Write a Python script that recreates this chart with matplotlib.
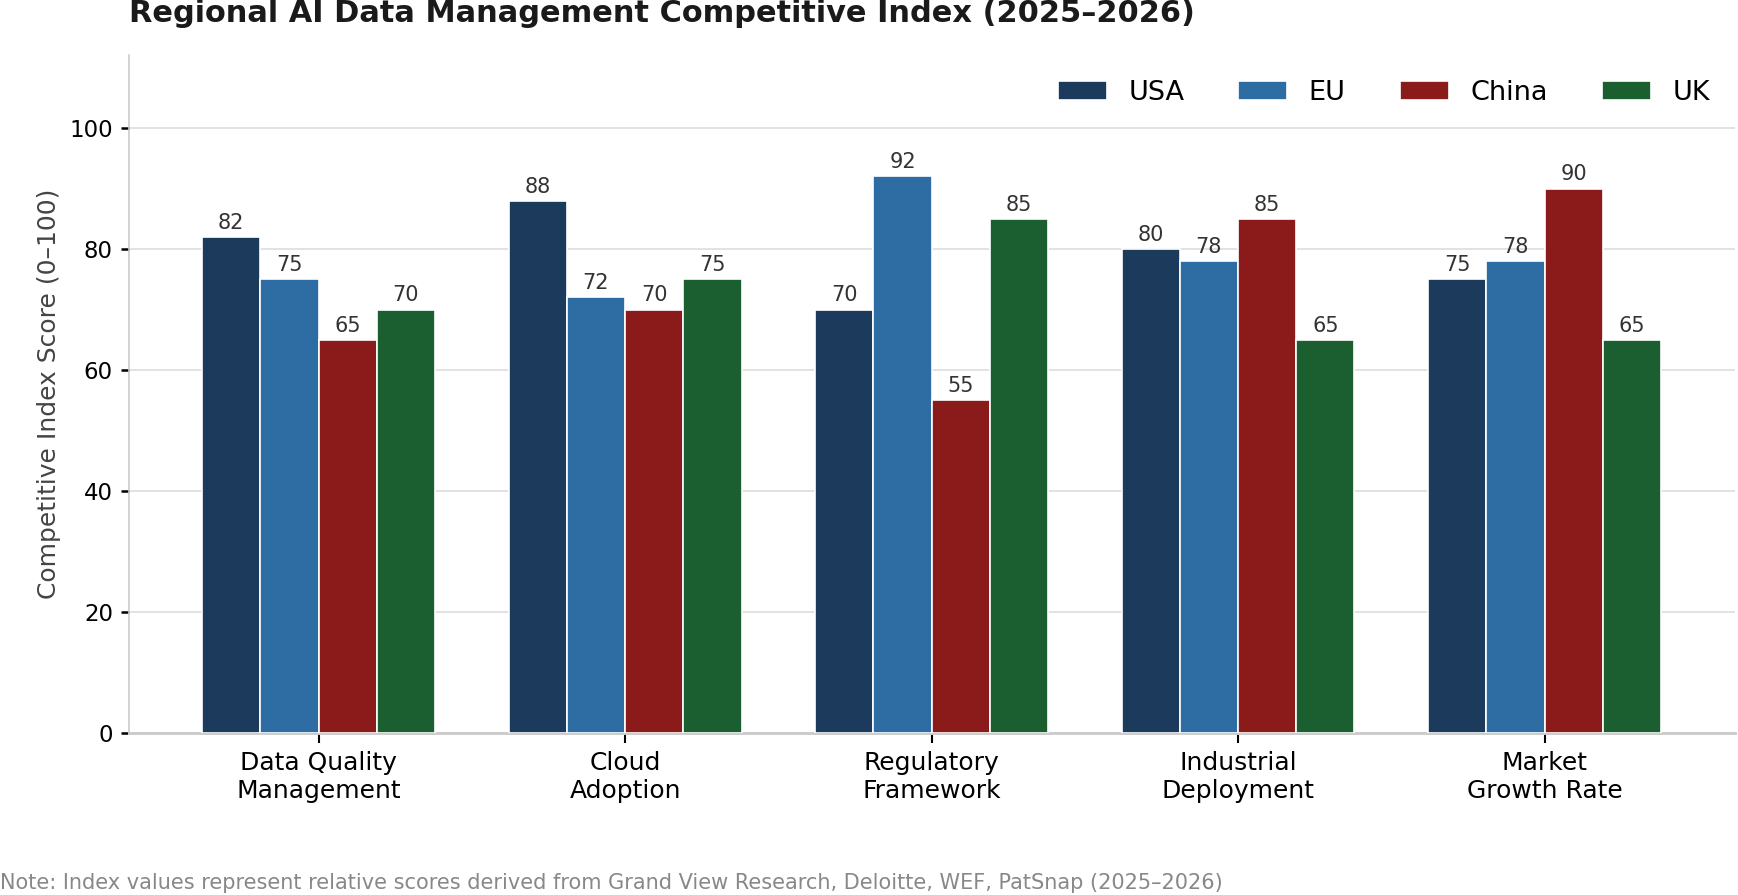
import matplotlib.pyplot as plt
import numpy as np

# Scores per dimension (0-100)
categories = ["Data Quality\nManagement", "Cloud\nAdoption", "Regulatory\nFramework",
              "Industrial\nDeployment", "Market\nGrowth Rate"]
regions = ["USA", "EU", "China", "UK"]
usa = [82, 88, 70, 80, 75]
eu = [75, 72, 92, 78, 78]
china = [65, 70, 55, 85, 90]
uk = [70, 75, 85, 65, 65]
colors = ["#1b3a5c", "#2e6ca4", "#8b1a1a", "#1b5e2f"]

series = [usa, eu, china, uk]

fig = plt.figure(figsize=(1738 / 150, 895 / 150), dpi=150)
ax = fig.add_axes([0.074, 0.181, 0.924, 0.757])

x = np.arange(len(categories))
width = 0.19
for i, vals in enumerate(series):
    offs = (i - 1.5) * width
    bars = ax.bar(x + offs, vals, width, color=colors[i], edgecolor="white",
                  linewidth=0.8, label=regions[i], zorder=3)
    ax.bar_label(bars, padding=2, fontsize=10, color="#333333")

ax.set_ylim(0, 112)
ax.set_xlim(-0.62, 4.62)
ax.set_xticks(x)
ax.set_xticklabels(categories, fontsize=12)
ax.set_yticks([0, 20, 40, 60, 80, 100])
ax.tick_params(axis="y", labelsize=11, length=4, width=1.2)
ax.tick_params(axis="x", length=5, width=1)
ax.set_ylabel("Competitive Index Score (0–100)", fontsize=12, color="#444444")

ax.yaxis.grid(True, color="#dddddd", linewidth=0.8, zorder=0)
ax.set_axisbelow(True)
for s in ["top", "right"]:
    ax.spines[s].set_visible(False)
ax.spines["left"].set_color("#cccccc")
ax.spines["bottom"].set_color("#cccccc")
ax.spines["bottom"].set_linewidth(1.4)

ax.legend(loc="upper right", ncol=4, frameon=False, fontsize=13,
          handlelength=1.8, handletextpad=0.8, columnspacing=2.0)

fig.text(0.074, 0.985, "Regional AI Data Management Competitive Index (2025–2026)",
         fontsize=14.6, fontweight="bold", ha="left", va="center", color="#1a1a1a")
fig.text(0.0, 0.0136, "Note: Index values represent relative scores derived from Grand View Research, "
         "Deloitte, WEF, PatSnap (2025–2026)", fontsize=10, color="#888888",
         ha="left", va="center")

fig.savefig("out.png", dpi=150)
